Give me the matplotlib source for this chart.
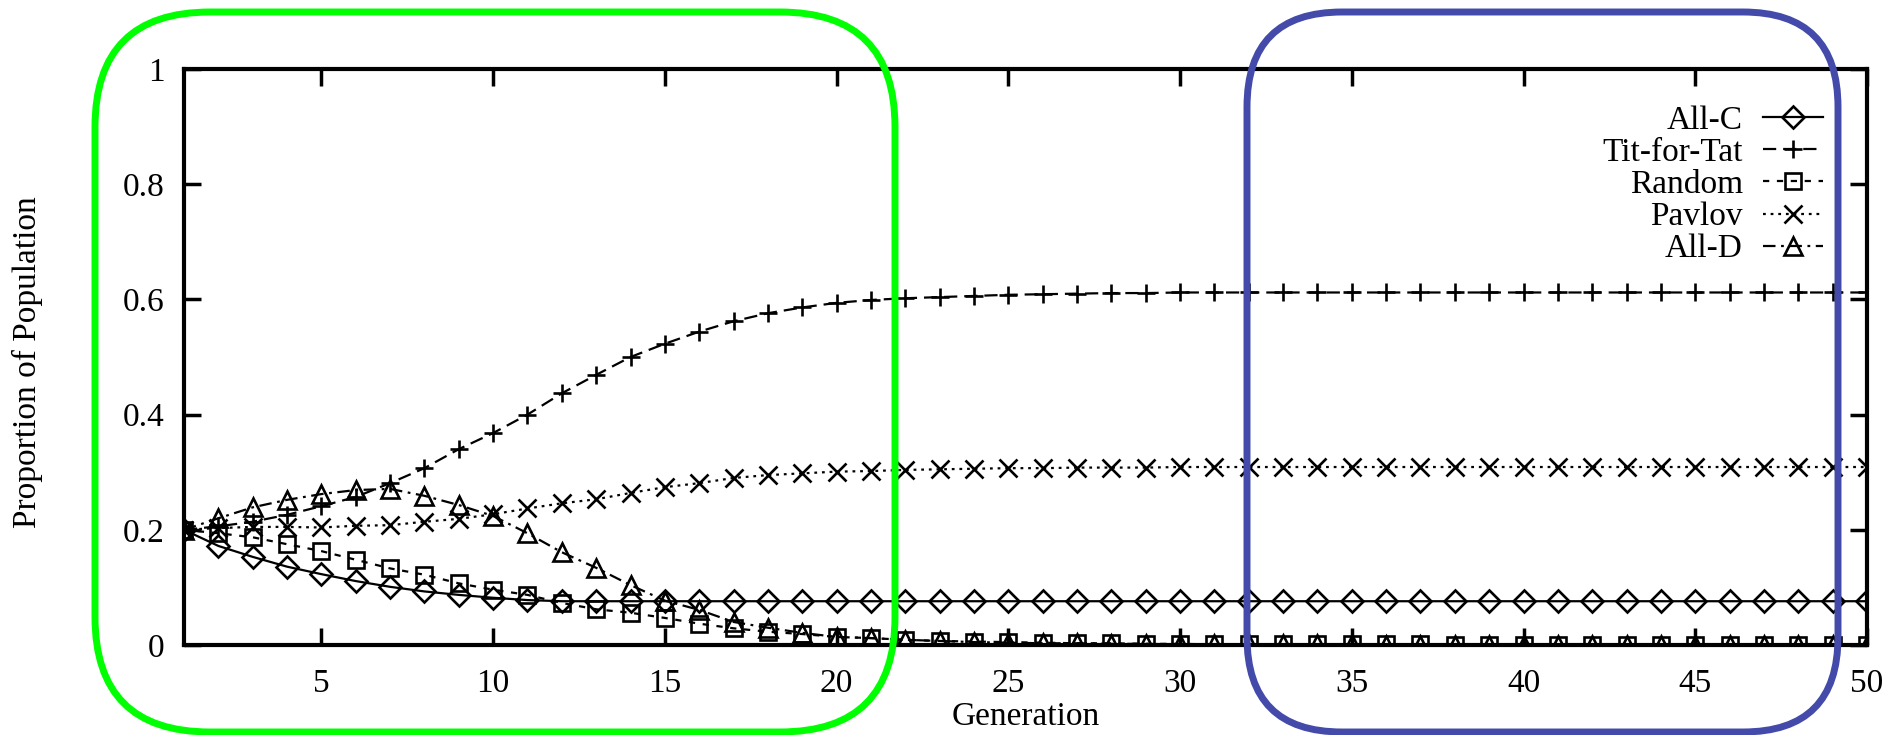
import numpy as np
import matplotlib
matplotlib.use("Agg")
import matplotlib.pyplot as plt
from matplotlib.patches import FancyBboxPatch
from matplotlib.ticker import FuncFormatter

plt.rcParams['font.family'] = ['Liberation Serif', 'DejaVu Serif']
plt.rcParams['lines.scale_dashes'] = False

generation = list(range(1, 51))

all_c = [0.200, 0.172, 0.153, 0.136, 0.123, 0.111, 0.101, 0.093, 0.087, 0.082,
         0.078, 0.076, 0.076, 0.076, 0.076, 0.076, 0.076, 0.076, 0.076, 0.076,
         0.076, 0.076, 0.076, 0.076, 0.076, 0.076, 0.076, 0.076, 0.076, 0.076,
         0.076, 0.076, 0.076, 0.076, 0.076, 0.076, 0.076, 0.076, 0.076, 0.076,
         0.076, 0.076, 0.076, 0.076, 0.076, 0.076, 0.076, 0.076, 0.076, 0.076]
tit_for_tat = [0.200, 0.206, 0.214, 0.226, 0.241, 0.257, 0.281, 0.307, 0.340, 0.368,
               0.400, 0.437, 0.469, 0.500, 0.523, 0.544, 0.562, 0.576, 0.586, 0.594,
               0.599, 0.602, 0.604, 0.606, 0.608, 0.609, 0.610, 0.611, 0.611, 0.612,
               0.612, 0.612, 0.612, 0.612, 0.612, 0.612, 0.612, 0.612, 0.612, 0.612,
               0.612, 0.612, 0.612, 0.612, 0.612, 0.612, 0.612, 0.612, 0.612, 0.612]
random_s = [0.200, 0.194, 0.187, 0.175, 0.163, 0.148, 0.133, 0.122, 0.107, 0.096,
            0.087, 0.073, 0.062, 0.056, 0.047, 0.037, 0.029, 0.023, 0.019, 0.014,
            0.012, 0.009, 0.007, 0.006, 0.005, 0.004, 0.003, 0.003, 0.002, 0.002,
            0.001, 0.001, 0.001, 0.001, 0.001, 0.001, 0.001, 0.000, 0.000, 0.000,
            0.000, 0.000, 0.000, 0.000, 0.000, 0.000, 0.000, 0.000, 0.000, 0.000]
pavlov = [0.200, 0.203, 0.205, 0.205, 0.204, 0.207, 0.208, 0.214, 0.219, 0.227,
          0.237, 0.246, 0.253, 0.264, 0.274, 0.281, 0.290, 0.295, 0.298, 0.301,
          0.302, 0.304, 0.305, 0.306, 0.307, 0.307, 0.308, 0.308, 0.308, 0.309,
          0.309, 0.309, 0.309, 0.309, 0.309, 0.309, 0.309, 0.309, 0.309, 0.309,
          0.309, 0.309, 0.309, 0.309, 0.309, 0.309, 0.309, 0.309, 0.309, 0.309]
all_d = [0.200, 0.220, 0.239, 0.252, 0.262, 0.269, 0.271, 0.259, 0.243, 0.224,
         0.194, 0.161, 0.134, 0.104, 0.077, 0.061, 0.040, 0.030, 0.021, 0.014,
         0.012, 0.009, 0.007, 0.005, 0.004, 0.003, 0.003, 0.002, 0.002, 0.001,
         0.001, 0.001, 0.001, 0.001, 0.001, 0.000, 0.000, 0.000, 0.000, 0.000,
         0.000, 0.000, 0.000, 0.000, 0.000, 0.000, 0.000, 0.000, 0.000, 0.000]

W, H = 1902, 735
fs = 24
fig = plt.figure(figsize=(W / 100, H / 100), dpi=100)
ax = fig.add_axes([184 / W, (H - 645) / H, (1867 - 184) / W, (645 - 69) / H])

lw = 1.6
common = dict(color='black', lw=lw, markerfacecolor='none', markeredgecolor='black',
              markeredgewidth=1.9)
ax.plot(generation, all_c, marker='D', ms=11, ls='-', label='All-C', **common)
ax.plot(generation, tit_for_tat, marker='+', ms=13, dashes=(9.5, 5), label='Tit-for-Tat', **common)
ax.plot(generation, random_s, marker='s', ms=12, dashes=(4.5, 5.5), label='Random', **common)
ax.plot(generation, pavlov, marker='x', ms=13, dashes=(2, 3.5), label='Pavlov', **common)
ax.plot(generation, all_d, marker='^', ms=13, dashes=(9, 4, 2, 4), label='All-D', **common)

ax.set_xlim(1, 50)
ax.set_ylim(0, 1)
ax.set_xticks(range(5, 51, 5))
ax.set_yticks([0, 0.2, 0.4, 0.6, 0.8, 1.0])
ax.yaxis.set_major_formatter(FuncFormatter(lambda v, p: '%g' % v))
ax.tick_params(direction='in', top=True, right=True, length=12, width=2.5,
               labelsize=fs)
ax.tick_params(axis='x', pad=17)
ax.tick_params(axis='y', pad=14)
for s in ax.spines.values():
    s.set_linewidth(3)

ax.set_xlabel('Generation', fontsize=fs, va='baseline')
ax.xaxis.set_label_coords(0.5, (645 - 725) / 576)
fig.text(27 / W, 1 - 196 / H, 'Proportion of Population', rotation=90,
         fontsize=fs, ha='center', va='top')

# legend: rows at y=117..246 px from top, handle right end at x=1832
target_top = H - 117
target_pitch = 32.2
target_right = 1832
spacing = 0.0
anchor = [target_right / W, 1 - 100 / H]
for it in range(3):
    leg = ax.legend(loc='upper right', bbox_to_anchor=tuple(anchor),
                    bbox_transform=fig.transFigure, frameon=False, markerfirst=False,
                    fontsize=fs, handlelength=1.8, handletextpad=0.6,
                    labelspacing=spacing, borderpad=0, borderaxespad=0, numpoints=1)
    fig.canvas.draw()
    r = fig.canvas.get_renderer()
    ext = [h.get_window_extent(r) for h in leg.legend_handles]
    ys = [(e.y0 + e.y1) / 2 for e in ext]
    pitch = (ys[0] - ys[-1]) / (len(ys) - 1)
    spacing += (target_pitch - pitch) / (fs * 100 / 72)
    anchor[1] += (target_top - ys[0]) / H
    anchor[0] += (target_right - max(e.x1 for e in ext)) / W

# highlight boxes (pixel positions converted to inches)
boxes = [((95, 12, 895, 732), '#00FF00', 115),
         ((1247, 12, 1838, 732), '#434AA9', 95)]
for (x0, y0, x1, y1), col, rad in boxes:
    p = FancyBboxPatch((x0 / 100, (H - y1) / 100), (x1 - x0) / 100, (y1 - y0) / 100,
                       boxstyle='round,pad=0,rounding_size=%f' % (rad / 100),
                       transform=fig.dpi_scale_trans, fill=False,
                       edgecolor=col, lw=5, zorder=10)
    fig.add_artist(p)

fig.savefig('out.png', dpi=100)
